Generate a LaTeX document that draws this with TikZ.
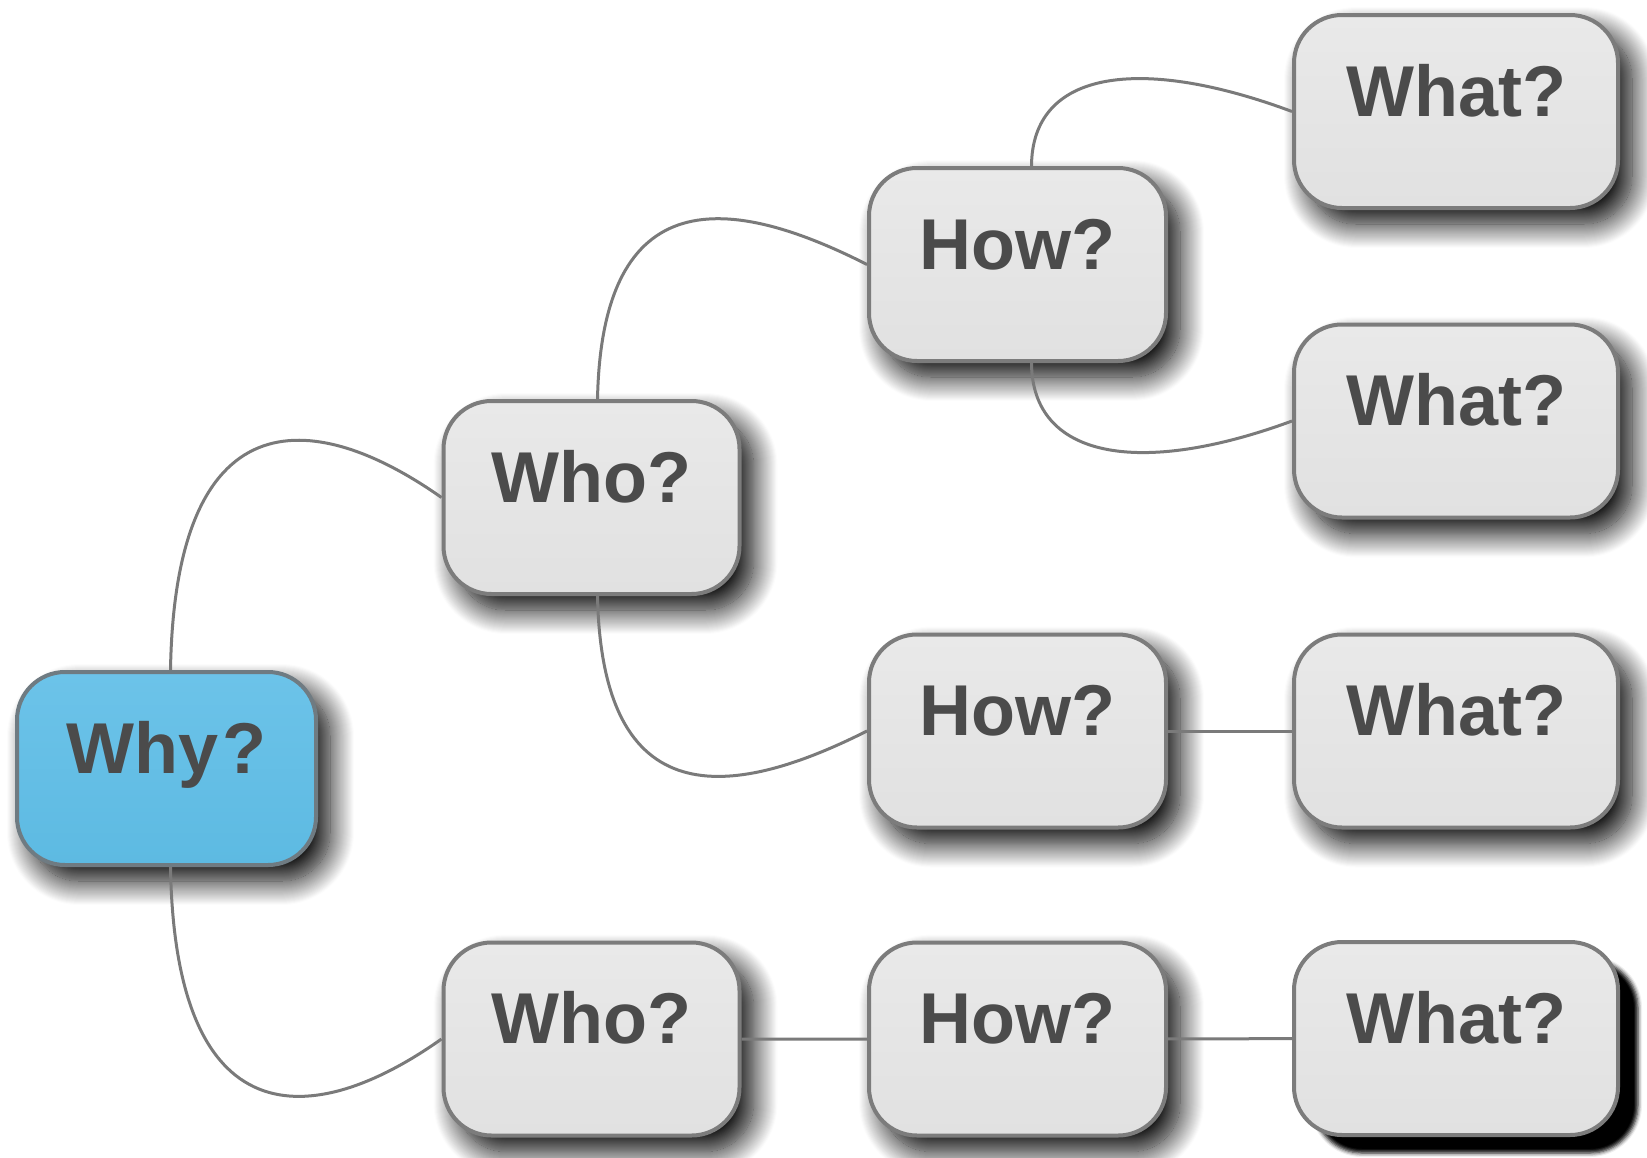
\documentclass[tikz,border=0pt]{standalone}
\usepackage{fontspec}
\setmainfont{Liberation Sans}
\usetikzlibrary{shadows.blur}
\definecolor{boxline}{HTML}{7C7C7C}
\definecolor{linkgray}{HTML}{7A7A7A}
\definecolor{txtgray}{HTML}{4B4B4B}
\definecolor{boxtop}{HTML}{E9E9E9}
\definecolor{boxbottom}{HTML}{E1E1E1}
\definecolor{whyline}{HTML}{6F7B82}
\definecolor{whytop}{HTML}{6CC3E9}
\definecolor{whybottom}{HTML}{5DBAE2}

\begin{document}
\begin{tikzpicture}[x=1pt, y=-1pt,
	box/.style={draw=boxline, line width=4pt, rounded corners=48pt,
		top color=boxtop, bottom color=boxbottom,
		minimum width=296pt, minimum height=193pt, inner sep=0pt,
		text=txtgray, font=\fontsize{72}{80}\selectfont\bfseries,
		text height=60pt, text depth=51pt},
	softshadow/.style={blur shadow={shadow xshift=14pt, shadow yshift=-16pt,
		shadow blur radius=24pt, shadow blur steps=24, shadow opacity=100}},
	hardshadow/.style={blur shadow={shadow xshift=20pt, shadow yshift=-18pt,
		shadow blur radius=4pt, shadow opacity=100}},
	whybox/.style={box, softshadow, draw=whyline, top color=whytop, bottom color=whybottom, minimum width=299pt},
	whatbox/.style={box, minimum width=324pt},
	link/.style={draw=linkgray, line width=3pt}]
		\useasboundingbox (0,0) rectangle (1647,1157);
		
		\node[whybox, xshift=3pt] (why) at (163.5,768.5) {Why\kern4pt?};
		\node[box, softshadow] (whoA) at (591.5,497.5) {Who?};
		\node[box, softshadow] (whoB) at (591.5,1039) {Who?};
		\node[box, softshadow, minimum width=297pt] (howA) at (1017.5,264.5) {How?};
		\node[box, softshadow, minimum width=297pt] (howB) at (1017.5,731) {How?};
		\node[box, softshadow, minimum width=297pt] (howC) at (1017.5,1039) {How?};
		\node[whatbox, softshadow] (whatA) at (1456,111.5) {What?};
		\node[whatbox, softshadow] (whatB) at (1456,421) {What?};
		\node[whatbox, softshadow] (whatC) at (1456,731) {What?};
		\node[whatbox, hardshadow] (whatD) at (1456,1038.5) {What?};
		
		% curved links
		\draw[link] ([xshift=4pt]why.north) .. controls (175,400) and (310,405) .. (whoA.west);
		\draw[link] ([xshift=4pt]why.south) .. controls (175,1136) and (310,1132) .. (whoB.west);
		\draw[link] ([xshift=6pt]whoA.north) .. controls (602,180) and (730,195) .. (howA.west);
		\draw[link] ([xshift=6pt]whoA.south) .. controls (602,815) and (730,800) .. (howB.west);
		\draw[link] ([xshift=14pt]howA.north) .. controls (1032,70) and (1140,55) .. (whatA.west);
		\draw[link] ([xshift=14pt]howA.south) .. controls (1032,459) and (1140,477) .. (whatB.west);
		% straight links
		\draw[link] (howB) -- (whatC);
		\draw[link] (whoB) -- (howC) (howC) -- (whatD);
		
\end{tikzpicture}
\end{document}
